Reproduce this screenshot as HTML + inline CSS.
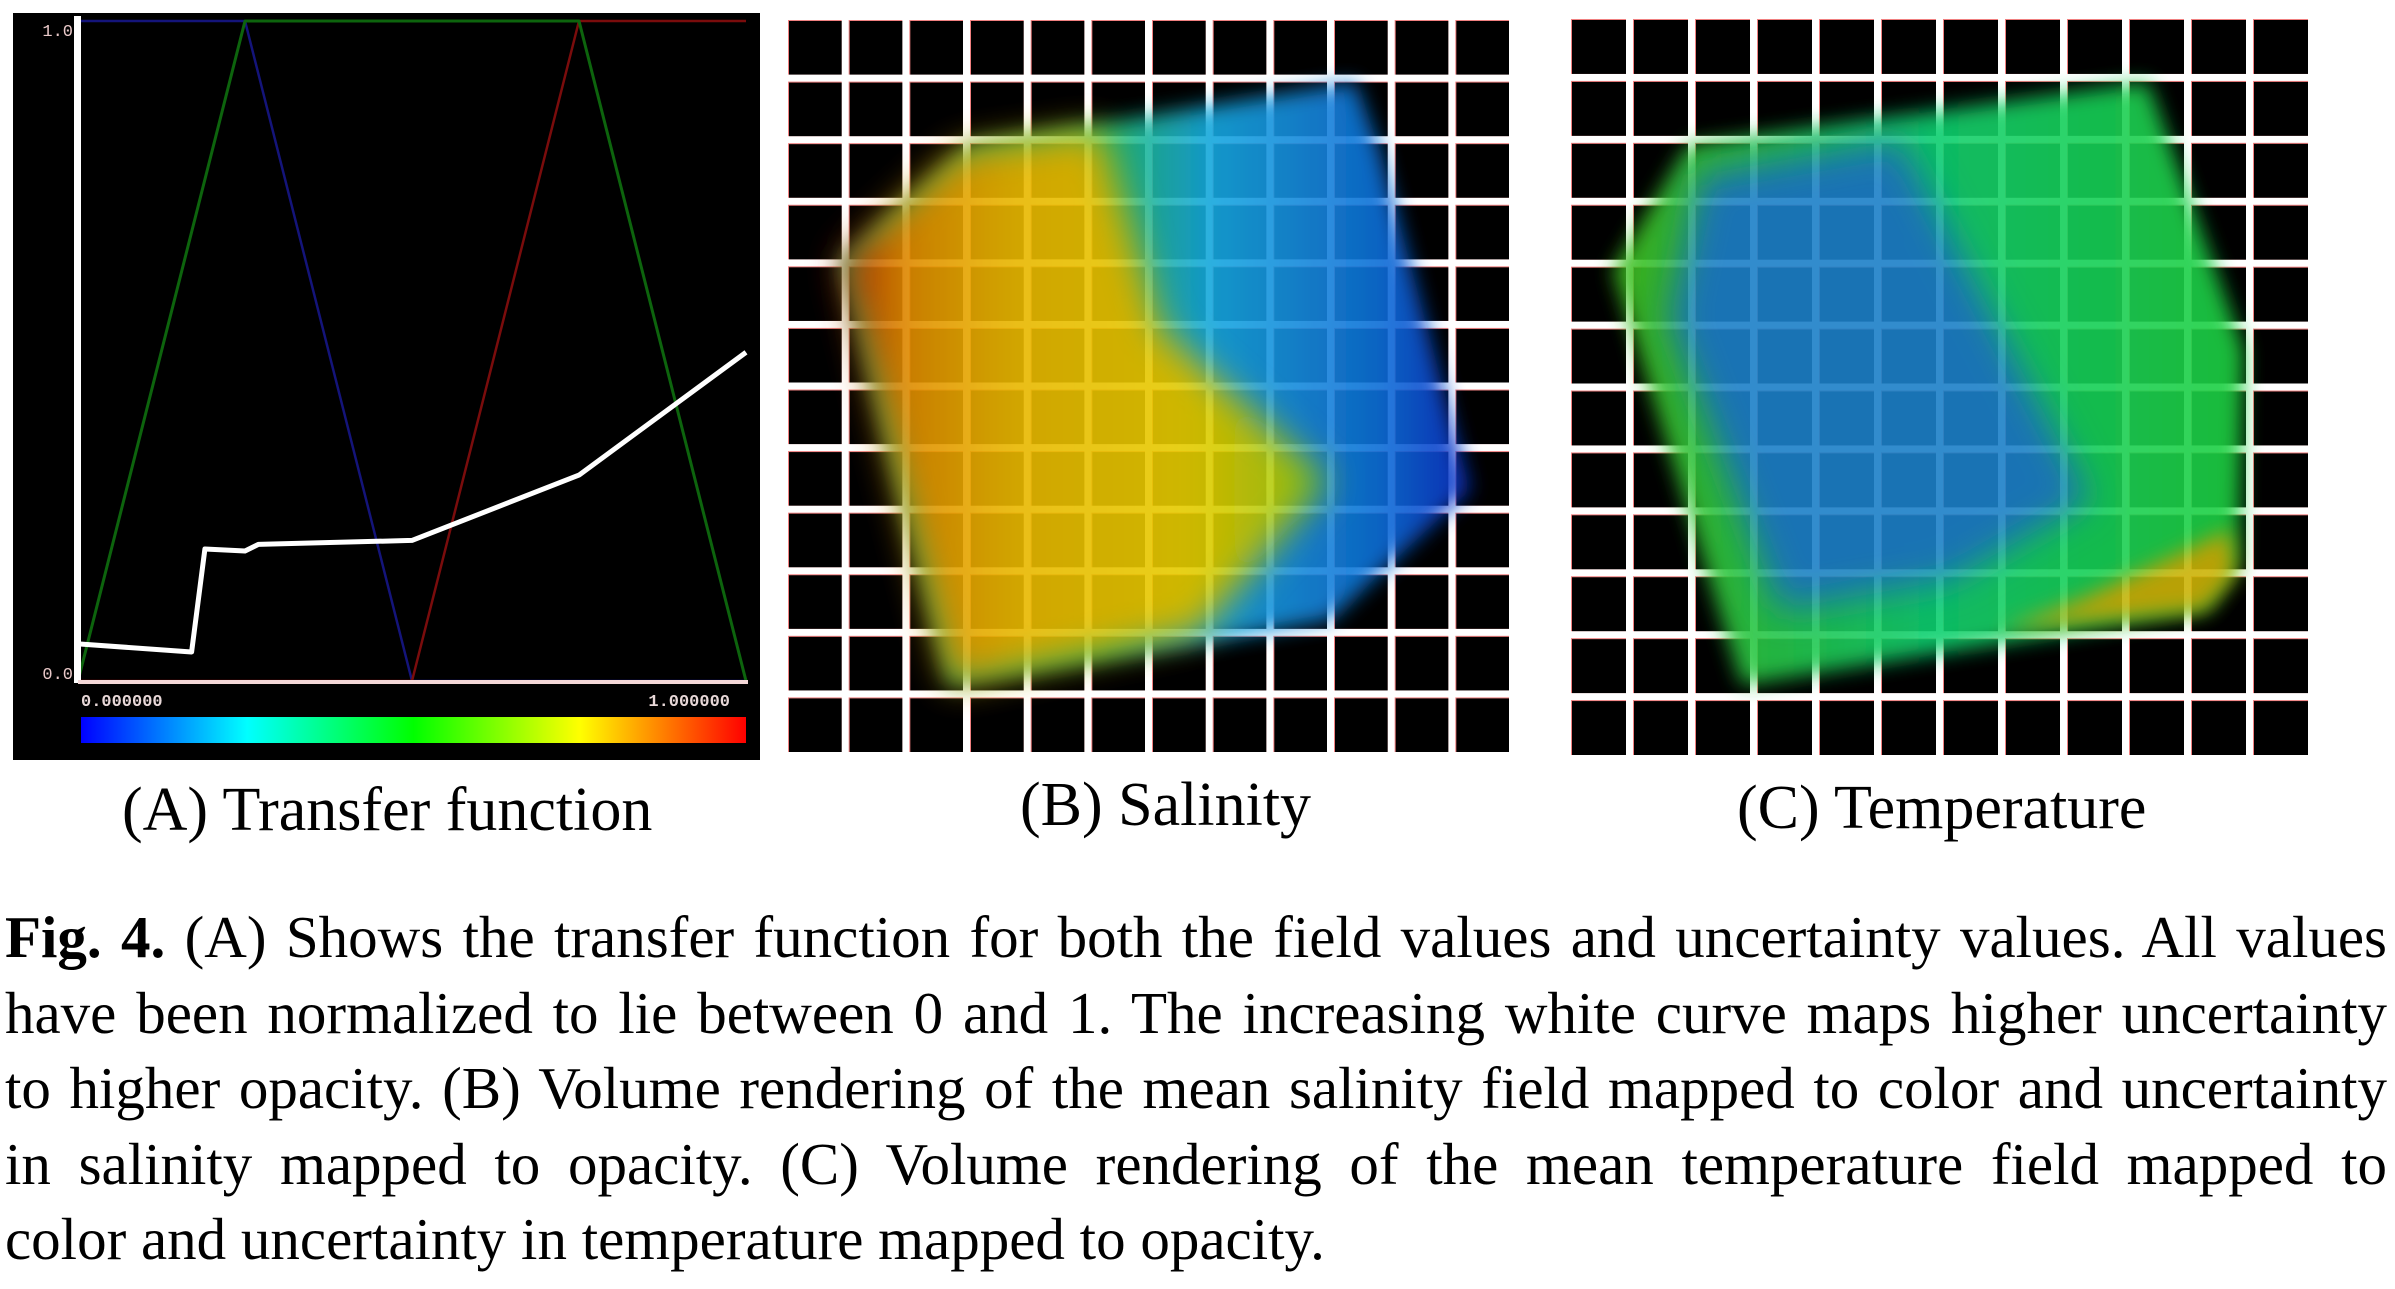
<!DOCTYPE html>
<html><head><meta charset="utf-8">
<style>
html,body{margin:0;padding:0;background:#fff;}
body{width:2395px;height:1289px;position:relative;overflow:hidden;font-family:"Liberation Serif",serif;}
.cap{position:absolute;font-size:62px;color:#000;white-space:nowrap;}
#para{position:absolute;left:5px;top:900px;width:2382px;font-size:59px;line-height:75.5px;color:#000;}
#para div{text-align:justify;text-align-last:justify;white-space:nowrap;}
#para div.last{text-align-last:left;}
</style></head>
<body>
<svg id="fig" width="2395" height="780" style="position:absolute;left:0;top:0">
  <defs>
    <linearGradient id="cbar" x1="0" x2="1" y1="0" y2="0">
      <stop offset="0" stop-color="#0000ff"/><stop offset="0.25" stop-color="#00ffff"/>
      <stop offset="0.5" stop-color="#00ff00"/><stop offset="0.75" stop-color="#ffff00"/>
      <stop offset="1" stop-color="#ff0000"/>
    </linearGradient>
    <linearGradient id="salBlue" x1="1100" x2="1470" y1="0" y2="0" gradientUnits="userSpaceOnUse">
      <stop offset="0" stop-color="#20c070"/><stop offset="0.3" stop-color="#18a8e0"/>
      <stop offset="0.75" stop-color="#1070d8"/><stop offset="1" stop-color="#1030c8"/>
    </linearGradient>
    <linearGradient id="salYel" x1="840" x2="1340" y1="0" y2="0" gradientUnits="userSpaceOnUse">
      <stop offset="0" stop-color="#b81800"/><stop offset="0.12" stop-color="#e08a00"/>
      <stop offset="0.35" stop-color="#e8b800"/><stop offset="0.7" stop-color="#e6cc00"/>
      <stop offset="0.92" stop-color="#a8d010"/><stop offset="1" stop-color="#20d840"/>
    </linearGradient>
    <linearGradient id="tempGreen" x1="1613" x2="2244" y1="0" y2="0" gradientUnits="userSpaceOnUse">
      <stop offset="0" stop-color="#40c020"/><stop offset="0.5" stop-color="#10d070"/>
      <stop offset="1" stop-color="#20d040"/>
    </linearGradient>
    <filter id="blur"><feGaussianBlur stdDeviation="10"/></filter>
    <filter id="blur2"><feGaussianBlur stdDeviation="18"/></filter>
  </defs>
  <g id="panelA">
    <rect x="13" y="13" width="747" height="747" fill="#000"/>
  </g>
  <g id="gridB"></g>
  <g opacity="0.9">
    <polygon points="970,145 1355,82 1380,150 1470,490 1330,620 1190,645 950,685 840,260" fill="url(#salBlue)" filter="url(#blur)"/>
    <polygon points="960,150 1100,130 1160,330 1330,480 1200,630 950,685 840,260" fill="url(#salYel)" filter="url(#blur2)"/>
  </g>
  <g id="gridC"></g>
  <g opacity="0.9">
    <polygon points="1688,145 2148,82 2244,350 2239,565 2207,610 1742,685 1613,270" fill="url(#tempGreen)" filter="url(#blur)"/>
    <polygon points="1700,175 1900,140 2000,330 2090,500 1950,580 1780,610 1670,320" fill="#1a80c8" filter="url(#blur2)"/>
    <polygon points="2080,600 2230,530 2235,575 2205,610 2000,630" fill="#e0b000" opacity="0.9" filter="url(#blur)"/>
  </g>
</svg>

<div class="cap" style="left:122px;top:775px">(A) Transfer function</div>
<div class="cap" style="left:1020px;top:770px">(B) Salinity</div>
<div class="cap" style="left:1737px;top:773px">(C) Temperature</div>

<div id="para">
<div><b>Fig. 4.</b> (A) Shows the transfer function for both the field values and uncertainty values. All values</div>
<div>have been normalized to lie between 0 and 1. The increasing white curve maps higher uncertainty</div>
<div>to higher opacity. (B) Volume rendering of the mean salinity field mapped to color and uncertainty</div>
<div>in salinity mapped to opacity. (C) Volume rendering of the mean temperature field mapped to</div>
<div class="last">color and uncertainty in temperature mapped to opacity.</div>
</div>

<script>
const NS = "http://www.w3.org/2000/svg";
// Transfer function data
const tfX = [0, 0.25, 0.5, 0.75, 1];
const greenVals = [0, 1, 1, 1, 0];
const blueVals = [1, 1, 0, 0, 0];
const redVals = [0, 0, 0, 1, 1];
const opacityX = [0.003, 0.17, 0.19, 0.25, 0.27, 0.5, 0.75, 1];
const opacityVals = [0.056, 0.044, 0.2, 0.197, 0.207, 0.213, 0.312, 0.498];
const yTickLabels = ["0.0", "1.0"];
const xTickLabels = ["0.000000", "1.000000"];

const X0 = 78, X1 = 746, Y0 = 681, Y1 = 21;
function sx(v){ return X0 + v * (X1 - X0); }
function sy(v){ return Y0 - v * (Y0 - Y1); }

const A = document.getElementById('panelA');
function mk(tag, attrs, parent){
  const e = document.createElementNS(NS, tag);
  for (const k in attrs) e.setAttribute(k, attrs[k]);
  parent.appendChild(e);
  return e;
}
function poly(xs, ys, color, w, name){
  const pts = xs.map((x,i)=> sx(x).toFixed(1)+","+sy(ys[i]).toFixed(1)).join(" ");
  const p = mk('polyline', {points: pts, fill: 'none', stroke: color, 'stroke-width': w, 'stroke-linejoin':'round'}, A);
  
  
  return p;
}
poly(tfX, blueVals, '#14147a', 2.5, 'blue-channel-line');
poly(tfX, redVals, '#7a0c0c', 2.5, 'red-channel-line');
poly(tfX, greenVals, '#0d640d', 3, 'green-channel-line');
poly(opacityX, opacityVals, '#ffffff', 5, 'opacity-curve');

const yAxis = mk('rect', {x: 74, y: 16, width: 7, height: Y0 - 14, fill: '#fff'}, A);


const xAxis = mk('line', {x1: X0, y1: Y0+1, x2: X1+2, y2: Y0+1, stroke: '#f4d8d8', 'stroke-width': 4}, A);


yTickLabels.forEach((t, i) => {
  const tx = mk('text', {x: 73, y: sy(i === 0 ? 0 : 1) + (i === 0 ? -2 : 15), fill: '#e8c8c8', 'font-size': 17, 'font-family': 'Liberation Mono, monospace', 'text-anchor': 'end'}, A);
  tx.textContent = t;
  
  
});
xTickLabels.forEach((t, i) => {
  const tx = mk('text', {x: i === 0 ? 81 : 730, y: 706, fill: '#e8d8d8', 'font-size': 17, 'font-family': 'Liberation Mono, monospace', 'text-anchor': i === 0 ? 'start' : 'end', 'font-weight': 'bold'}, A);
  tx.textContent = t;
  
  
});
const cb = mk('rect', {x: 81, y: 717, width: 665, height: 26, fill: 'url(#cbar)'}, A);



function grid(id, x0, y0, w, h){
  const g = document.getElementById(id);
  mk('rect', {x: x0-2, y: y0-2, width: w+4, height: h+4, fill: '#fff'}, g);
  const px = (w + 8) / 12, py = (h + 8) / 12, ch = py - 8;
  for (let r = 0; r < 12; r++) for (let c = 0; c < 12; c++){
    const x = x0 + c*px, y = y0 + r*py;
    mk('rect', {x: x - 1, y: y - 1, width: px - 8 + 1, height: ch + 1, fill: '#f08080'}, g);
    const cell = mk('rect', {x: x, y: y, width: px - 8, height: ch, fill: '#000'}, g);
    
    
  }
}
grid('gridB', 789, 21, 720, 731);
grid('gridC', 1572, 20, 736, 735);
</script>
</body></html>
